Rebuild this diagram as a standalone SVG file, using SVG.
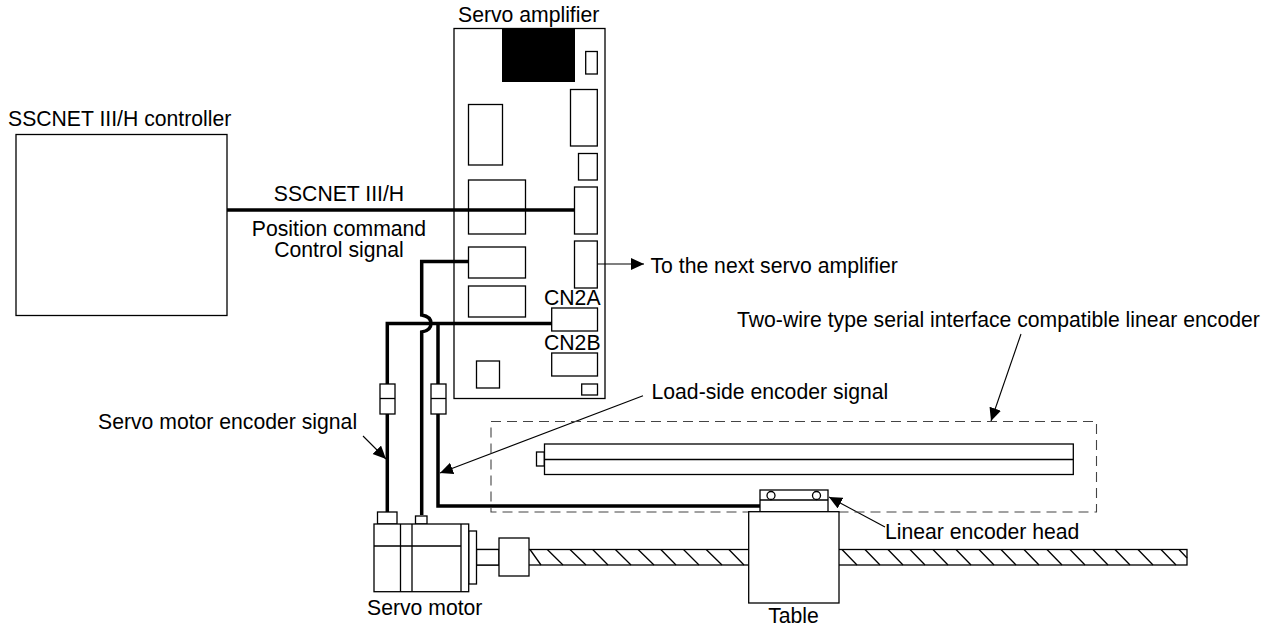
<svg xmlns="http://www.w3.org/2000/svg" width="1280" height="628" viewBox="0 0 1280 628">
<style>
.s{fill:#fff;stroke:#000;stroke-width:1.3}
.n{fill:none;stroke:#000;stroke-width:1.3}
.w{fill:none;stroke:#000;stroke-width:3.5}
.a{fill:none;stroke:#000;stroke-width:1.1}
.d{fill:none;stroke:#444;stroke-width:1.1;stroke-dasharray:10 6}
text{font-family:"Liberation Sans",Arial,sans-serif;font-size:21.2px;fill:#000}
.m{text-anchor:middle}
</style>
<defs>
<marker id="ah" markerUnits="userSpaceOnUse" markerWidth="15" markerHeight="13" refX="13" refY="6" orient="auto"><path d="M0 0L13 6L0 12Z" fill="#000"/></marker>
</defs>
<rect width="1280" height="628" fill="#fff"/>
<g id="controller"><rect class="s" x="16" y="134.5" width="211" height="181"/><text x="8" y="126">SSCNET III/H controller</text></g>
<g id="amplifier">
<rect class="s" x="454" y="28.5" width="151" height="370"/>
<rect x="502" y="28" width="73" height="54" fill="#000"/>
<rect class="s" x="585.7" y="51.5" width="11.6" height="22.5"/>
<rect class="s" x="570.5" y="89.5" width="26.8" height="56.5"/>
<rect class="s" x="578.5" y="153.5" width="18.8" height="26.5"/>
<rect class="s" x="468.5" y="104.5" width="34" height="60.5"/>
<rect class="s" x="468.5" y="180" width="57" height="54"/>
<rect class="s" x="574.5" y="187" width="22.8" height="47"/>
<rect class="s" x="574.5" y="241" width="22.8" height="47"/>
<rect class="s" x="468.5" y="247" width="57" height="31"/>
<rect class="s" x="468.5" y="286" width="57" height="31"/>
<rect class="s" x="551.7" y="308" width="45.8" height="23"/>
<rect class="s" x="551.7" y="353" width="45.8" height="23"/>
<rect class="s" x="581.7" y="384" width="15.8" height="11"/>
<rect class="s" x="476.5" y="361" width="23" height="27"/>
<text x="458" y="22">Servo amplifier</text>
<text x="544" y="305">CN2A</text>
<text x="544" y="350">CN2B</text>
</g>
<g id="connectors">
<path class="w" d="M227 210H574"/>
<path class="w" d="M468 261.5H421.7V315C428 316 431 319 431 323.5C431 328 428 331 421.7 332V515"/>
<path class="w" d="M552 323.5H387.3V512"/>
<path class="w" d="M438 323.5V506H760"/>
<path class="a" marker-end="url(#ah)" d="M597 264H644"/>
<path class="a" marker-end="url(#ah)" d="M363 436L386 459"/>
<path class="a" marker-end="url(#ah)" d="M643 395.7L440 473"/>
<path class="a" marker-end="url(#ah)" d="M1021 334L991 421"/>
<path class="a" marker-end="url(#ah)" d="M885 527L829 497"/>
</g>
<g id="cable-couplers">
<rect class="s" x="380" y="384" width="15" height="30"/><path class="n" d="M380 398.5H395"/>
<rect class="s" x="431" y="384" width="15" height="30"/><path class="n" d="M431 398.5H446"/>
</g>
<g id="labels">
<text class="m" x="339" y="200.5">SSCNET III/H</text>
<text class="m" x="339" y="235.5">Position command</text>
<text class="m" x="339" y="256.5">Control signal</text>
<text x="650.5" y="272.5">To the next servo amplifier</text>
<text x="737" y="327">Two-wire type serial interface compatible linear encoder</text>
<text x="651.5" y="399">Load-side encoder signal</text>
<text x="98" y="429">Servo motor encoder signal</text>
<text x="885" y="538.5">Linear encoder head</text>
</g>
<g id="encoder">
<rect class="d" x="491" y="421.5" width="605.5" height="90.5"/>
<rect class="s" x="536.5" y="452" width="7.8" height="14"/>
<rect class="s" x="544.5" y="444" width="528.8" height="30.5"/>
<path class="n" d="M544.5 459.5H1073"/>
</g>
<g id="screw">
<rect class="s" x="476" y="549.5" width="711" height="15.5"/>
<path class="n" d="M530 549.5L541 565M547.3 549.5L563 565M570 549.5L586 565M592.7 549.5L608 565M615.4 549.5L631 565M638.1 549.5L654 565M660.8 549.5L676 565M683.5 549.5L699 565M706.2 549.5L722 565M728.9 549.5L744 565M842 549.5L857 565M865 549.5L880 565M888 549.5L903 565M910 549.5L925 565M933 549.5L948 565M956 549.5L971 565M979 549.5L994 565M1001 549.5L1016 565M1024 549.5L1039 565M1047 549.5L1062 565M1070 549.5L1085 565M1093 549.5L1108 565M1115 549.5L1130 565M1138 549.5L1153 565M1161 549.5L1176 565M1179 549.5L1187 558"/>
<rect class="s" x="476.5" y="549.5" width="22.5" height="15.5"/>
<rect class="s" x="499" y="538" width="30" height="38"/>
</g>
<g id="motor">
<rect class="s" x="377.5" y="512" width="19.5" height="12"/>
<rect class="s" x="415.5" y="516" width="11.5" height="8"/>
<rect class="s" x="468.7" y="531" width="7.8" height="53"/>
<rect class="s" x="374" y="524" width="94.7" height="67.7"/>
<path class="n" d="M374 546H461M400.5 524V591.7M412 524V591.7M461 524V591.7"/>
<text x="367" y="615">Servo motor</text>
</g>
<g id="table">
<rect class="s" x="760" y="490" width="68" height="22"/>
<path class="n" d="M760 500H828"/>
<circle class="s" cx="771" cy="495.5" r="4"/><circle class="s" cx="816.5" cy="495.5" r="4"/>
<rect class="s" x="748.7" y="511.7" width="90.3" height="91.3"/>
<text class="m" x="793.5" y="623">Table</text>
</g>
</svg>
